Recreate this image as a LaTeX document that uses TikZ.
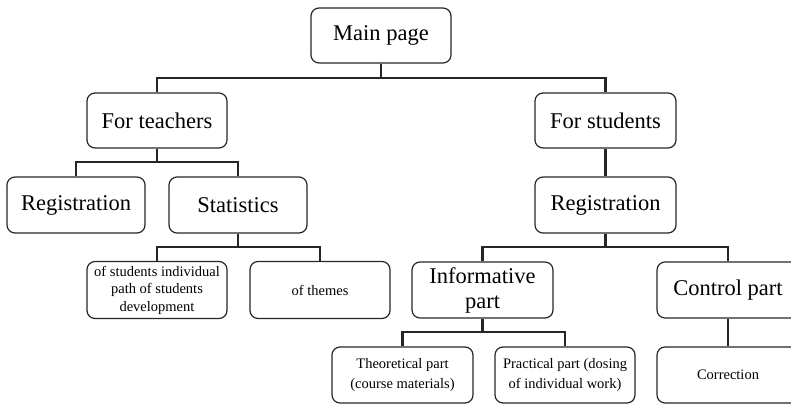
\documentclass[tikz,border=0pt]{standalone}
\usepackage{fontspec}
\setmainfont{Liberation Serif}
\begin{document}
\begin{tikzpicture}[x=1pt,y=-1pt,
  box/.style={draw=black!85, line width=1.2pt, rounded corners=8pt, inner sep=2pt,
    align=center, font=\fontsize{22.5}{25}\selectfont},
  wide/.style={box, minimum width=140pt, minimum height=55pt},
  leaf/.style={box, minimum width=140pt, minimum height=56pt,
    font=\fontsize{14.5}{20}\selectfont},
  conn/.style={draw=black!85, line width=2.4pt}]
\clip (0,0) rectangle (791,404);

% upper levels
\node[wide] (main)  at (381,35.5)  {Main page};
\node[wide] (teach) at (157,120.5) {For teachers};
\node[wide, minimum width=141pt] (stud) at (605.5,120.5) {For students};
\node[wide, minimum width=138pt, minimum height=56pt] (regL) at (76,205) {Registration};
\node[wide, minimum width=138pt, minimum height=56pt] (stat) at (238,205) {Statistics};
\node[wide, minimum width=141pt, minimum height=56pt] (regR) at (605.5,205) {Registration};

% third level
\node[leaf, minimum height=57pt, font=\fontsize{14.5}{17.5}\selectfont] (ind) at (157,290)
  {of students individual\\path of students\\development};
\node[leaf, minimum height=57pt] (themes) at (320,290) {of themes};
\node[wide, minimum width=141pt, minimum height=56pt] (info) at (482.5,290) {Informative\\part};
\node[wide, minimum width=142pt, minimum height=56pt] (ctrl) at (728,290) {Control part};

% bottom level
\node[leaf, minimum width=141pt] (theo) at (402.5,375) {Theoretical part\\(course materials)};
\node[leaf] (prac) at (565,375) {Practical part (dosing\\of individual work)};
\node[leaf, minimum width=142pt] (corr) at (728,375) {Correction};

% connectors
\draw[conn] (main.south) -- (main.south |- 0,78) coordinate (j0);
\draw[conn] (teach.north) |- (j0) -| (stud.north);

\draw[conn] (teach.south) -- (teach.south |- 0,162) coordinate (j1);
\draw[conn] (regL.north) |- (j1) -| (stat.north);

\draw[conn] (stat.south) -- (stat.south |- 0,247) coordinate (j2);
\draw[conn] (ind.north) |- (j2) -| (themes.north);

\draw[conn] (stud.south) -- (regR.north);

\draw[conn] (regR.south) -- (regR.south |- 0,247) coordinate (j3);
\draw[conn] (info.north) |- (j3) -| (ctrl.north);

\draw[conn] (info.south) -- (info.south |- 0,332) coordinate (j4);
\draw[conn] (theo.north) |- (j4) -| (prac.north);

\draw[conn] (ctrl.south) -- (corr.north);
\end{tikzpicture}
\end{document}
